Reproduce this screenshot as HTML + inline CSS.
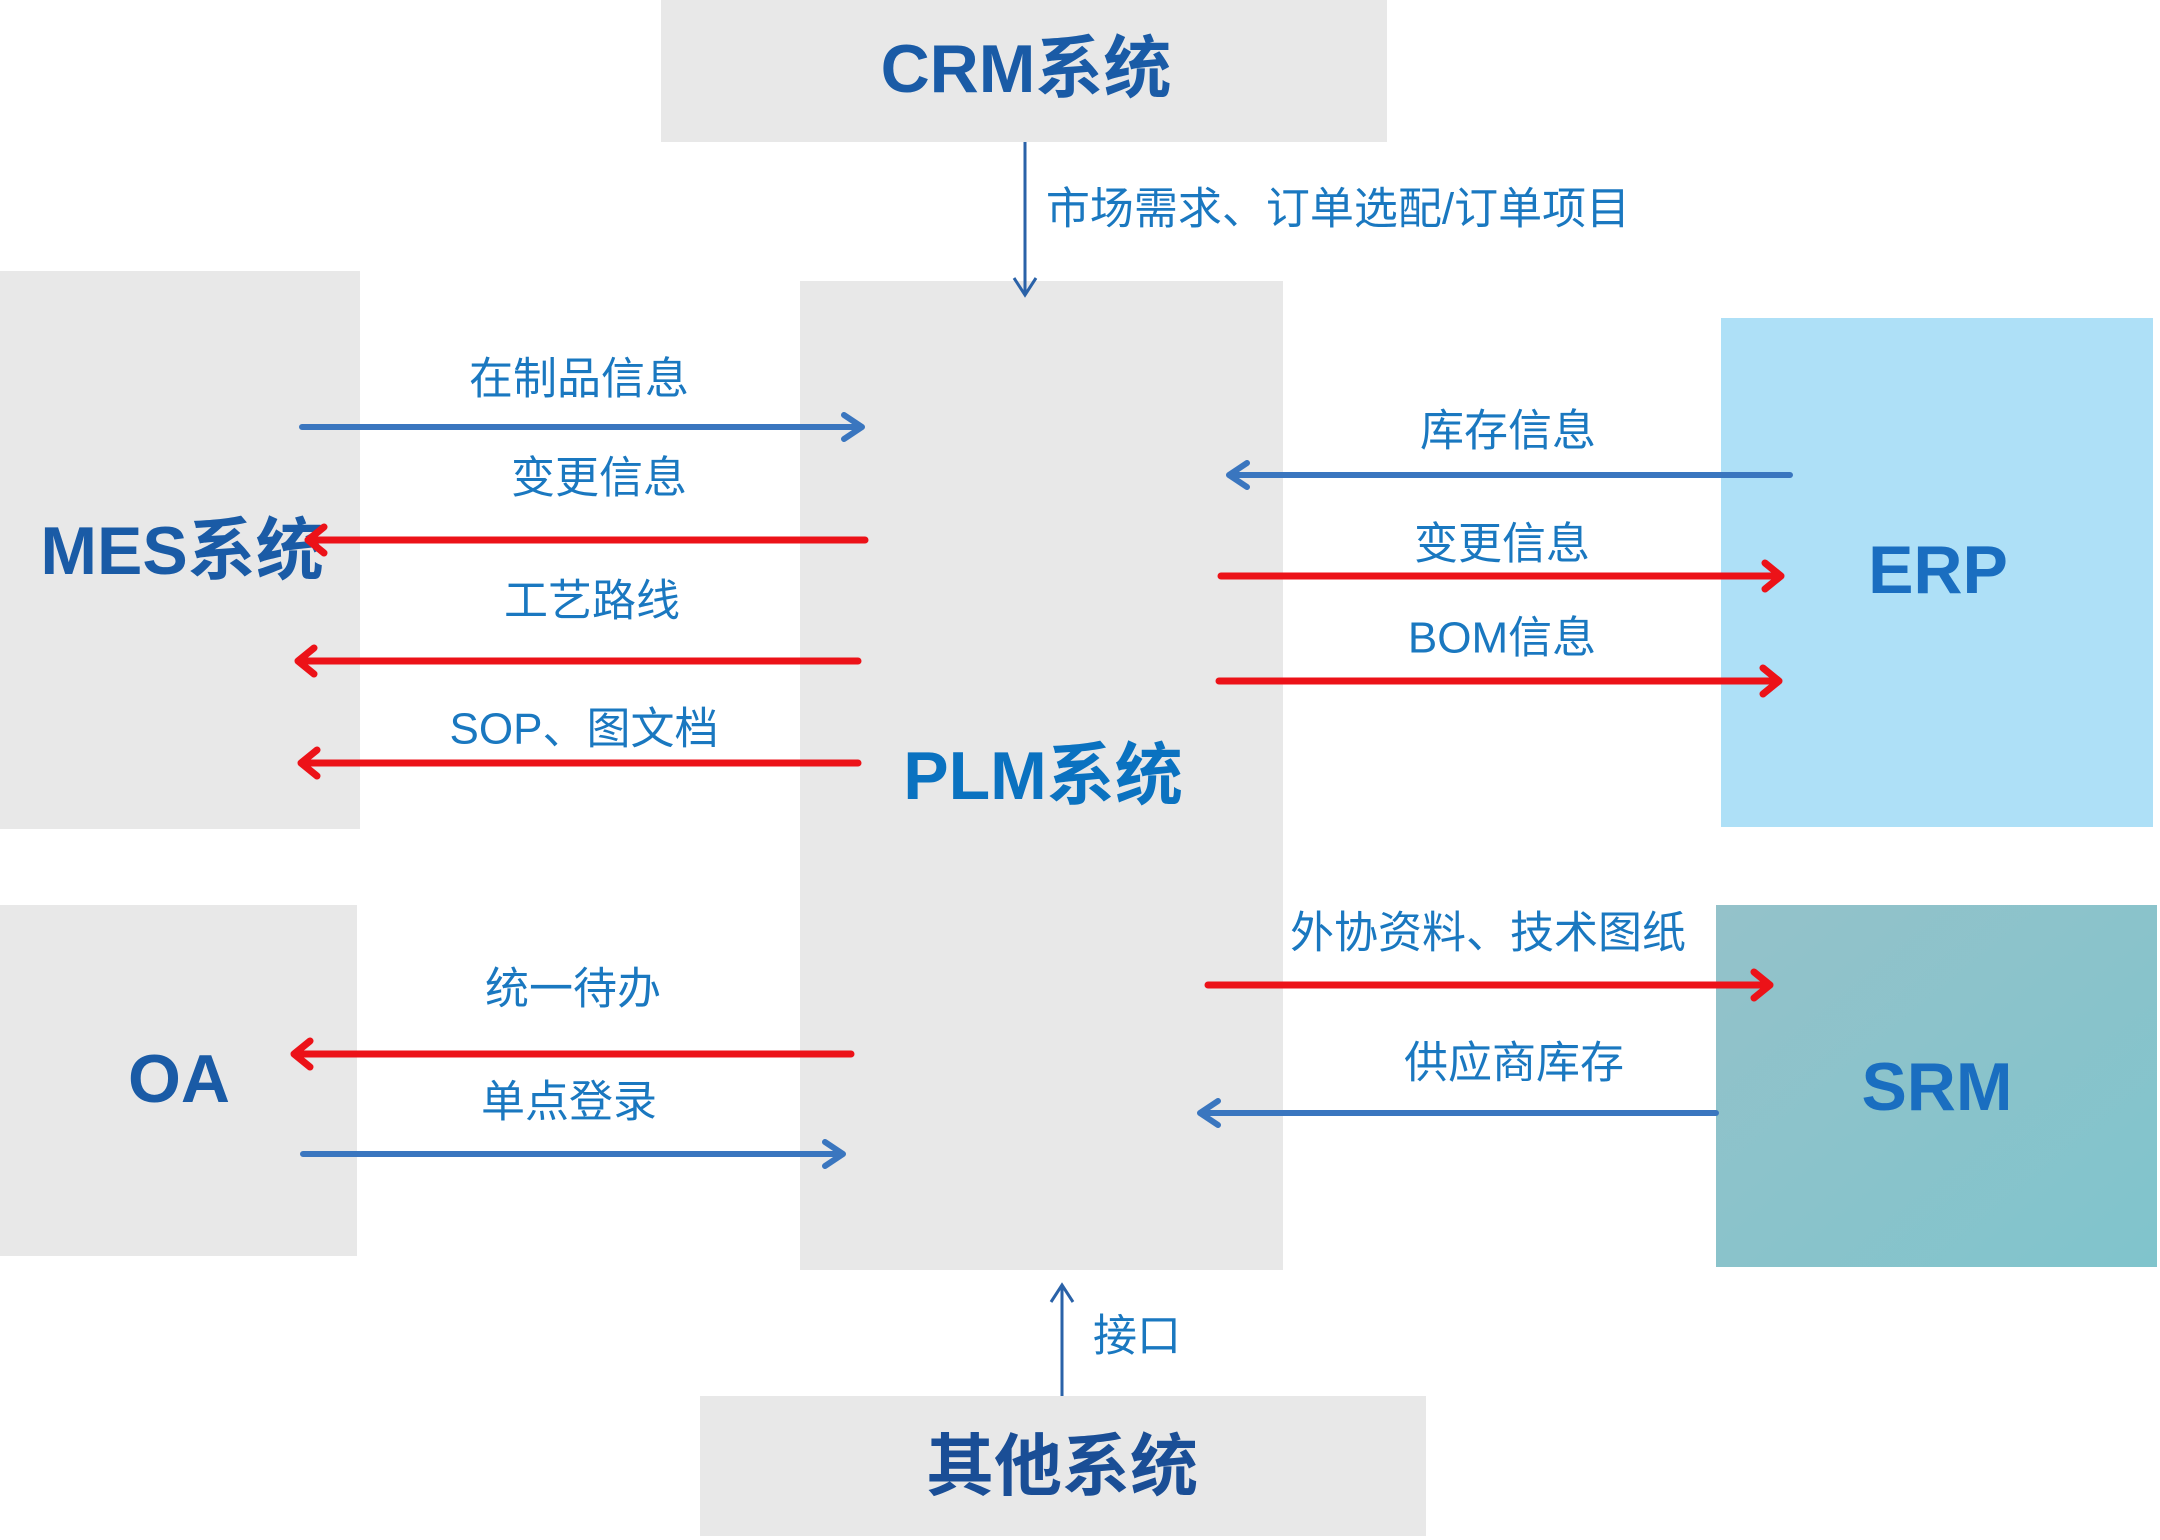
<!DOCTYPE html>
<html><head><meta charset="utf-8"><style>
html,body{margin:0;padding:0;background:#fff;}
svg{display:block;}
.t{font-family:"Liberation Sans","Noto Sans CJK SC",sans-serif;font-weight:bold;text-anchor:middle;dominant-baseline:central;}
.l{font-family:"Liberation Sans","Noto Sans CJK SC",sans-serif;font-size:44px;fill:#1a78c0;text-anchor:middle;dominant-baseline:central;}
.b{stroke:#3a76bf;stroke-width:6;fill:none;stroke-linecap:round;stroke-linejoin:round;}
.r{stroke:#ec1218;stroke-width:7;fill:none;stroke-linecap:round;stroke-linejoin:round;}
.n{stroke:#2a62a8;stroke-width:3;fill:none;}
</style></head><body>
<svg width="2160" height="1540" viewBox="0 0 2160 1540" xmlns="http://www.w3.org/2000/svg">
<defs>
<linearGradient id="srm" x1="0" y1="0" x2="1" y2="1"><stop offset="0" stop-color="#94c2ca"/><stop offset="1" stop-color="#80c4cc"/></linearGradient>
</defs>
<!-- boxes -->
<rect x="661" y="0" width="726" height="142" fill="#e8e8e8"/>
<rect x="800" y="281" width="483" height="989" fill="#e8e8e8"/>
<rect x="0" y="271" width="360" height="558" fill="#e8e8e8"/>
<rect x="0" y="905" width="357" height="351" fill="#e8e8e8"/>
<rect x="1721" y="318" width="432" height="509" fill="#aee0f7"/>
<rect x="1716" y="905" width="441" height="362" fill="url(#srm)"/>
<rect x="700" y="1396" width="726" height="140" fill="#e8e8e8"/>
<!-- titles -->
<text class="t" x="1026" y="69" font-size="68" fill="#1a5ba6">CRM系统</text>
<text class="t" x="1043" y="776" font-size="68" fill="#0a72c0">PLM系统</text>
<text class="t" x="182" y="551" font-size="68" fill="#1a5ba6">MES系统</text>
<text class="t" x="179" y="1079" font-size="68" fill="#1a5ba6">OA</text>
<text class="t" x="1938" y="570" font-size="68" fill="#1a6ec0">ERP</text>
<text class="t" x="1937" y="1087" font-size="68" fill="#1a6ec0">SRM</text>
<text class="t" x="1062" y="1467" font-size="68" fill="#1a4e96">其他系统</text>
<!-- CRM arrow -->
<path class="n" d="M1025 142 V294"/><path class="n" d="M1014 278 L1025 295 L1036 278"/>
<text class="l" x="1338" y="209" style="text-anchor:middle">市场需求、订单选配/订单项目</text>
<!-- other arrow -->
<path class="n" d="M1062 1396 V1286"/><path class="n" d="M1051 1302 L1062 1285 L1073 1302"/>
<text class="l" x="1137" y="1336">接口</text>
<!-- MES -->
<path class="b" d="M302 427 H862 M844 415 L862 427 L844 439"/>
<text class="l" x="579" y="379">在制品信息</text>
<path class="r" d="M865 540 H308 M324 527 L308 540 L324 553"/>
<text class="l" x="599" y="478">变更信息</text>
<path class="r" d="M858 661 H298 M314 648 L298 661 L314 674"/>
<text class="l" x="592" y="601">工艺路线</text>
<path class="r" d="M858 763 H301 M317 750 L301 763 L317 776"/>
<text class="l" x="584" y="729">SOP、图文档</text>
<!-- OA -->
<path class="r" d="M851 1054 H294 M310 1041 L294 1054 L310 1067"/>
<text class="l" x="573" y="989">统一待办</text>
<path class="b" d="M303 1154 H843 M825 1142 L843 1154 L825 1166"/>
<text class="l" x="569" y="1102">单点登录</text>
<!-- ERP -->
<path class="b" d="M1790 475 H1229 M1247 463 L1229 475 L1247 487"/>
<text class="l" x="1508" y="431">库存信息</text>
<path class="r" d="M1221 576 H1781 M1765 563 L1781 576 L1765 589"/>
<text class="l" x="1502" y="544">变更信息</text>
<path class="r" d="M1219 681 H1779 M1763 668 L1779 681 L1763 694"/>
<text class="l" x="1502" y="638">BOM信息</text>
<!-- SRM -->
<path class="r" d="M1208 985 H1770 M1754 972 L1770 985 L1754 998"/>
<text class="l" x="1488" y="933">外协资料、技术图纸</text>
<path class="b" d="M1716 1113 H1200 M1218 1101 L1200 1113 L1218 1125"/>
<text class="l" x="1514" y="1063">供应商库存</text>
</svg>
</body></html>
